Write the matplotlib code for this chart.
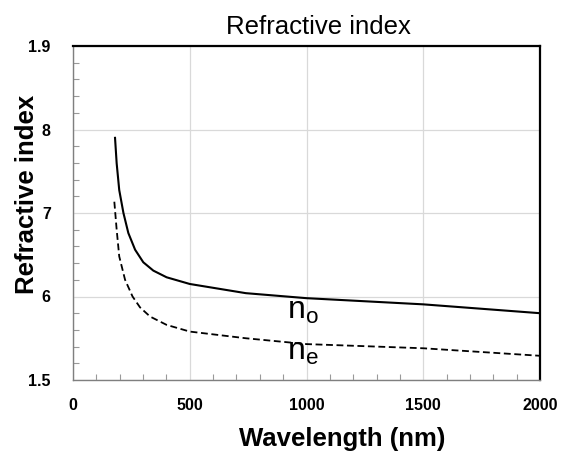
import matplotlib
matplotlib.use("Agg")
import matplotlib.pyplot as plt
from matplotlib.ticker import MultipleLocator

plt.rcParams['font.family'] = ['Liberation Sans', 'DejaVu Sans']

# values
wl_o = [180, 187, 198, 216, 237, 266, 301, 344, 401, 500, 740, 1000, 1500, 2000]
n_o = [1.790, 1.7595, 1.7275, 1.700, 1.676, 1.656, 1.641, 1.631, 1.623, 1.615,
       1.604, 1.598, 1.5906, 1.580]
wl_e = [177, 187, 198, 223, 255, 287, 330, 401, 500, 740, 1000, 1500, 2000]
n_e = [1.7135, 1.680, 1.648, 1.620, 1.600, 1.587, 1.576, 1.566, 1.558, 1.550,
       1.543, 1.538, 1.529]

y_ticks = [1.5, 1.6, 1.7, 1.8, 1.9]
y_tick_labels = ["1.5", "6", "7", "8", "1.9"]
x_ticks = [0, 500, 1000, 1500, 2000]

fig = plt.figure(figsize=(5.7, 4.55), dpi=100)
ax = fig.add_axes([73 / 570, 1 - 380 / 455, 467 / 570, 334 / 455])

ax.plot(wl_o, n_o, color="black", lw=1.5, linestyle="-")
ax.plot(wl_e, n_e, color="black", lw=1.3, linestyle=(0, (3.8, 2)))

ax.text(985, 1.583, r"n$_\mathregular{o}$", fontsize=23, ha="center", va="center")
ax.text(985, 1.534, r"n$_\mathregular{e}$", fontsize=23, ha="center", va="center")

ax.set_xlim(0, 2000)
ax.set_ylim(1.5, 1.9)
ax.set_xticks(x_ticks)
ax.set_yticks(y_ticks)
ax.set_yticklabels(y_tick_labels)
ax.xaxis.set_minor_locator(MultipleLocator(100))
ax.yaxis.set_minor_locator(MultipleLocator(0.02))

ax.grid(True, which="major", color="#d9d9d9", lw=0.9)
ax.set_axisbelow(True)
ax.tick_params(which="major", length=0, labelsize=11.5)
ax.tick_params(axis="x", which="major", pad=13)
ax.tick_params(axis="y", which="major", pad=16)
ax.tick_params(which="minor", direction="in", length=4, color="#999999", width=0.8)
for lab in ax.get_xticklabels() + ax.get_yticklabels():
    lab.set_fontweight("bold")

for side in ["top", "right"]:
    ax.spines[side].set_color("black")
    ax.spines[side].set_linewidth(1.6)
for side in ["left", "bottom"]:
    ax.spines[side].set_color("#7f7f7f")
    ax.spines[side].set_linewidth(1.0)

ax.set_title("Refractive index", fontsize=18.5, x=0.526, pad=9)
ax.set_xlabel("Wavelength (nm)", fontsize=18.5, fontweight="bold")
ax.set_ylabel("Refractive index", fontsize=18.5, fontweight="bold")
ax.xaxis.set_label_coords(0.577, -0.14)
ax.yaxis.set_label_coords(-0.073, 0.557)

fig.savefig("out.png", dpi=100)
plt.close(fig)
